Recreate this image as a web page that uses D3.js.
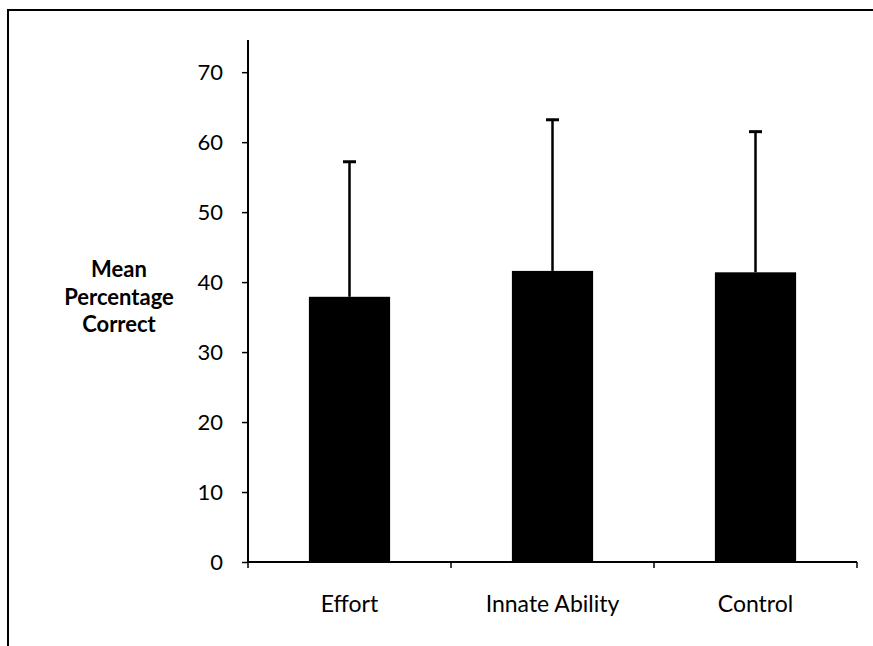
<!DOCTYPE html>
<html><head><meta charset="utf-8">
<script src="https://cdn.jsdelivr.net/npm/d3@7"></script>
<style>body{margin:0;background:#fff}text{font-family:Lato,"Open Sans",sans-serif}</style>
</head><body>
<svg id="c" width="873" height="646"></svg>
<script>
const categories = ["Effort", "Innate Ability", "Control"];
const means = [37.9, 41.6, 41.4];
const upperErr = [57.2, 63.2, 61.5];
const yTicks = [0, 10, 20, 30, 40, 50, 60, 70];
const yTitle = ["Mean", "Percentage", "Correct"];

(function () {
const svg = d3.select("#c");
// frame
svg.append("path").attr("d", "M8,646 V10 H873").attr("fill", "none").attr("stroke", "#000").attr("stroke-width", 2);

const pL = 248, pR = 857, pT = 40, pB = 562;
const y = d3.scaleLinear().domain([0, 74.6]).range([pB, pT]);
const x = d3.scaleBand().domain(categories).range([pL, pR]).paddingInner(0.6).paddingOuter(0.3);
const xb = d3.scaleBand().domain(categories).range([pL, pR]);

// y axis
const ya = svg.append("g").attr("transform", `translate(${pL},0)`)
  .call(d3.axisLeft(y).tickValues(yTicks).tickSize(6).tickSizeOuter(0).tickPadding(19));
ya.select(".domain").attr("stroke-width", 2).attr("d", `M0,${pT}V${pB}`);
ya.selectAll(".tick line").attr("stroke-width", 1.5);
ya.selectAll("text").attr("font-size", 22).attr("fill", "#000");

// bars
svg.selectAll("rect.bar").data(categories).join("rect").attr("class", "bar")
  .attr("x", d => x(d)).attr("width", x.bandwidth())
  .attr("y", (d, i) => y(means[i])).attr("height", (d, i) => y(0) - y(means[i]))
  .attr("fill", "#000");

// error bars
const eg = svg.append("g").attr("stroke", "#000");
categories.forEach((c, i) => {
  const cx = x(c) + x.bandwidth() / 2;
  eg.append("line").attr("x1", cx).attr("x2", cx).attr("y1", y(means[i])).attr("y2", y(upperErr[i])).attr("stroke-width", 2.5);
  eg.append("line").attr("x1", cx - 6.5).attr("x2", cx + 6.5).attr("y1", y(upperErr[i])).attr("y2", y(upperErr[i])).attr("stroke-width", 3);
});

// x axis
const xa = svg.append("g").attr("transform", `translate(0,${pB})`)
  .call(d3.axisBottom(xb).tickSize(0).tickPadding(34));
xa.select(".domain").attr("stroke-width", 2).attr("d", `M${pL},0H${pR}`);
xa.selectAll("text").attr("font-size", 23).attr("fill", "#000");
const edges = [pL].concat(categories.map(c => xb(c) + xb.bandwidth()));
xa.selectAll("line.edge").data(edges).join("line").attr("class", "edge")
  .attr("x1", d => d).attr("x2", d => d).attr("y1", 0).attr("y2", 6)
  .attr("stroke", "#000").attr("stroke-width", 1.5);

// y title
svg.append("text").attr("x", 119).attr("y", 277).attr("text-anchor", "middle")
  .attr("font-size", 22).attr("font-weight", "bold")
  .selectAll("tspan").data(yTitle).join("tspan")
  .attr("x", 119).attr("dy", (d, i) => i ? 27.5 : 0).text(d => d);
})();
</script>
</body></html>
